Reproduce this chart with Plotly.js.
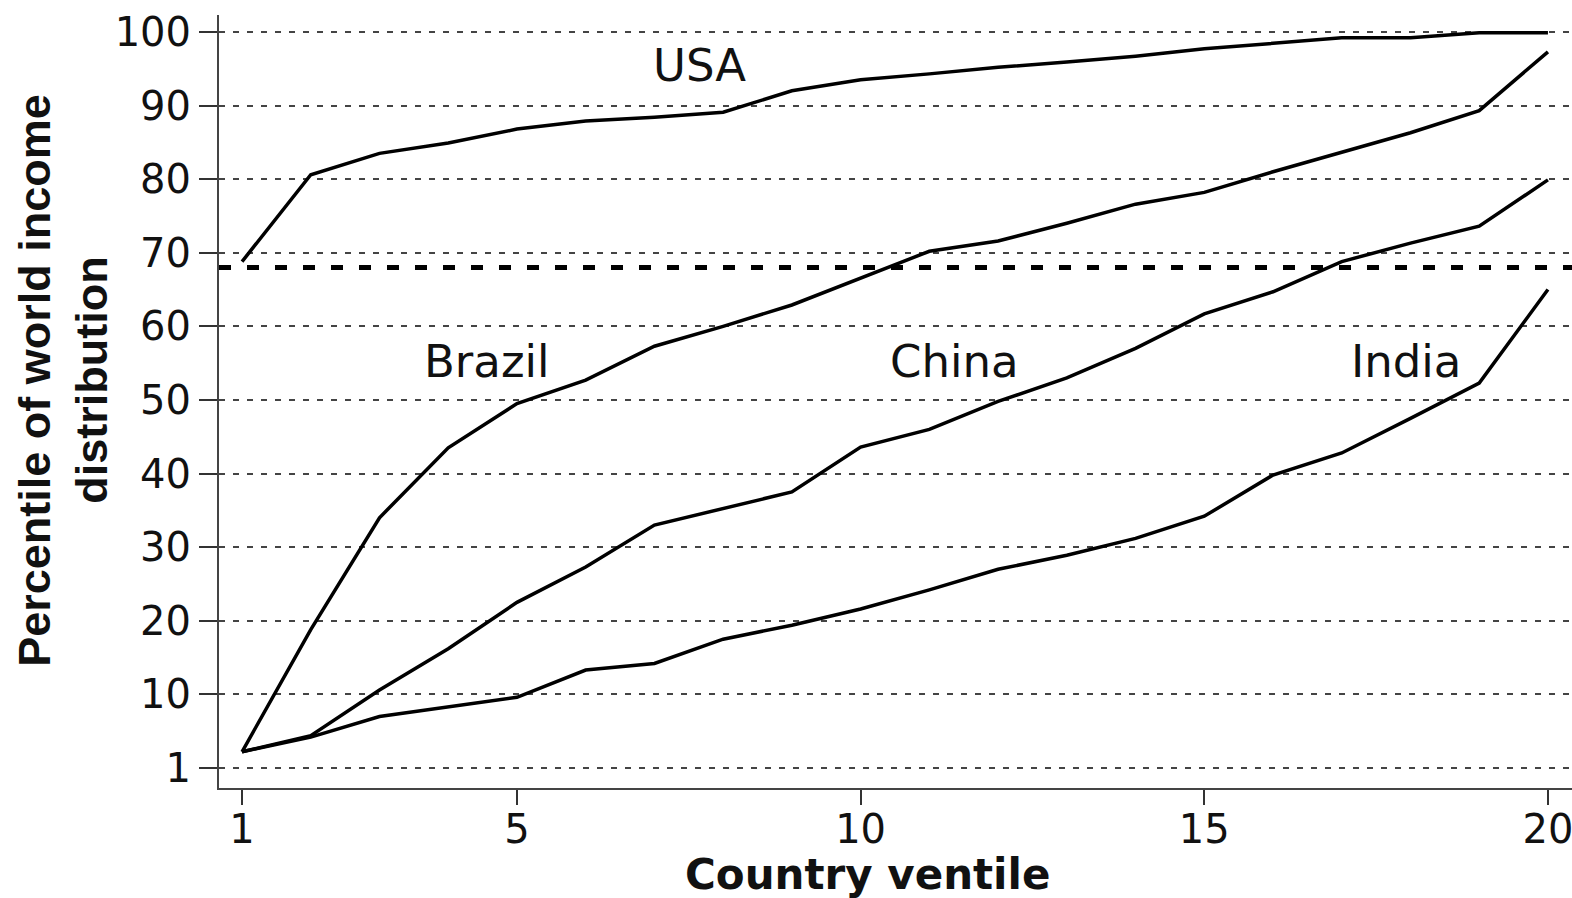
<!DOCTYPE html>
<html>
<head>
<meta charset="utf-8">
<script src="https://cdn.plot.ly/plotly-3.0.1.min.js"></script>
<style>
  html, body { margin: 0; padding: 0; background: #fff; }
  #chart { width: 1572px; height: 898px; }
</style>
</head>
<body>
<div id="chart"></div>
<script>
// ---- Data ----
const ventile = [1, 2, 3, 4, 5, 6, 7, 8, 9, 10, 11, 12, 13, 14, 15, 16, 17, 18, 19, 20];
const usa    = [68.8, 80.6, 83.5, 84.9, 86.8, 87.9, 88.4, 89.1, 92.0, 93.5, 94.3, 95.2, 95.9, 96.7, 97.7, 98.5, 99.2, 99.2, 99.9, 99.9];
const brazil = [2.2, 18.8, 34.0, 43.5, 49.5, 52.7, 57.3, 60.0, 62.9, 66.6, 70.2, 71.6, 74.0, 76.6, 78.2, 81.0, 83.7, 86.3, 89.3, 97.3];
const china  = [2.2, 4.4, 10.6, 16.2, 22.5, 27.3, 33.0, 35.2, 37.5, 43.6, 46.0, 49.8, 53.0, 57.0, 61.7, 64.7, 68.8, 71.3, 73.6, 79.9];
const india  = [2.2, 4.2, 7.0, 8.3, 9.6, 13.3, 14.2, 17.5, 19.4, 21.6, 24.2, 27.0, 28.9, 31.2, 34.2, 39.8, 42.8, 47.5, 52.3, 65.0];
const seriesNames = ["USA", "Brazil", "China", "India"];
const xTickVals = [1, 5, 10, 15, 20];
const yTickVals = [0, 10, 20, 30, 40, 50, 60, 70, 80, 90, 100];
const yTickText = ["1", "10", "20", "30", "40", "50", "60", "70", "80", "90", "100"];
const referenceLevel = [68];
// label anchor points (data coordinates)
const labelX = [7.66, 4.56, 11.36, 17.93];
const labelY = [95.4, 55.2, 55.2, 55.2];

const allSeries = [usa, brazil, china, india];
const traces = allSeries.map((ys, i) => ({
  type: "scatter",
  mode: "lines",
  name: seriesNames[i],
  x: ventile,
  y: ys,
  line: { color: "#000", width: 3.5 },
  hoverinfo: "x+y+name"
}));

const labelFont = { family: "DejaVu Sans", size: 45, color: "#111" };
const annotations = seriesNames.map((n, i) => ({
  x: labelX[i], y: labelY[i], xref: "x", yref: "y",
  text: n, showarrow: false, font: labelFont,
  xanchor: "center", yanchor: "middle"
}));

annotations.push({
  xref: "paper", yref: "paper", x: 0.479, y: -0.1125,
  text: "<b>Country ventile</b>", showarrow: false,
  font: { family: "DejaVu Sans", size: 42, color: "#111" },
  xanchor: "center", yanchor: "middle"
});
annotations.push({
  xref: "paper", yref: "paper", x: -0.136, y: 0.528,
  text: "<b>Percentile of world income</b>", showarrow: false, textangle: -90,
  font: { family: "Liberation Sans", size: 45, color: "#111" },
  xanchor: "center", yanchor: "middle"
});
annotations.push({
  xref: "paper", yref: "paper", x: -0.0939, y: 0.528,
  text: "<b>distribution</b>", showarrow: false, textangle: -90,
  font: { family: "Liberation Sans", size: 45, color: "#111" },
  xanchor: "center", yanchor: "middle"
});

const layout = {
  width: 1572, height: 898,
  margin: { l: 219, r: 0, t: 15, b: 110 },
  paper_bgcolor: "#fff", plot_bgcolor: "#fff",
  showlegend: false,
  xaxis: {
    range: [0.665, 20.35],
    tickmode: "array", tickvals: xTickVals,
    ticks: "outside", ticklen: 15, tickwidth: 2, tickcolor: "#333",
    showline: true, linecolor: "#444", linewidth: 2,
    showgrid: false, zeroline: false,
    ticklabeloverflow: "allow",
    ticklabelstandoff: -10,
    tickfont: { family: "DejaVu Sans", size: 40, color: "#111" }
  },
  yaxis: {
    range: [-2.72, 102.3],
    tickmode: "array", tickvals: yTickVals, ticktext: yTickText,
    ticks: "outside", ticklen: 18, tickwidth: 2, tickcolor: "#333",
    showline: true, linecolor: "#444", linewidth: 2,
    showgrid: true, gridcolor: "#444", gridwidth: 2, griddash: "6px,8px",
    zeroline: false,
    tickfont: { family: "DejaVu Sans", size: 40, color: "#111" }
  },
  shapes: referenceLevel.map(v => ({
    type: "line", xref: "paper", yref: "y",
    x0: 0, x1: 1, y0: v, y1: v,
    line: { color: "#000", width: 5, dash: "12px,16px" }
  })),
  annotations: annotations
};

Plotly.newPlot("chart", traces, layout, { displayModeBar: false, responsive: false });
</script>
</body>
</html>
